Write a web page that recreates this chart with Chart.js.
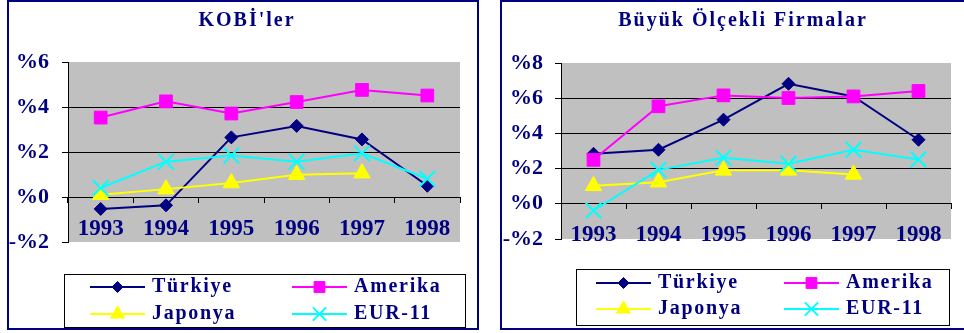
<!DOCTYPE html>
<html>
<head>
<meta charset="utf-8">
<script src="https://cdn.jsdelivr.net/npm/chart.js@4.4.1/dist/chart.umd.min.js"></script>
<style>
  html, body { margin: 0; padding: 0; background: #fff; }
  body { width: 964px; height: 333px; position: relative; overflow: hidden; }
  .panel { position: absolute; border: 2px solid #000080; box-sizing: border-box; z-index: 2; pointer-events: none; }
  canvas { position: absolute; top: 0; }
</style>
</head>
<body>
<div class="panel" style="left:7px;top:0;width:472px;height:330px"></div>
<div class="panel" style="left:500px;top:0;width:480px;height:330px"></div>
<canvas id="kobi" width="480" height="333" style="left:0;width:480px;height:333px"></canvas>
<canvas id="buyuk" width="482" height="333" style="left:482px;width:482px;height:333px"></canvas>
<script>
// Years on the category axis
const years = ['1993', '1994', '1995', '1996', '1997', '1998'];

// Series names
const seriesNames = ['Türkiye', 'Amerika', 'Japonya', 'EUR-11'];

// KOBİ'ler (%)
const kobiTurkiye = [-0.53, -0.37, 2.65, 3.16, 2.56, 0.50];
const kobiAmerika = [3.53, 4.25, 3.71, 4.22, 4.76, 4.51];
const kobiJaponya = [0.10, 0.35, 0.62, 0.99, 1.06, null];
const kobiEur11   = [0.40, 1.57, 1.84, 1.57, 1.94, 0.81];

// Büyük Ölçekli Firmalar (%)
const buyukTurkiye = [2.84, 3.07, 4.78, 6.82, 6.10, 3.64];
const buyukAmerika = [2.50, 5.54, 6.16, 6.01, 6.10, 6.41];
const buyukJaponya = [1.02, 1.23, 1.90, 1.90, 1.67, null];
const buyukEur11   = [-0.38, 1.93, 2.62, 2.27, 3.07, 2.52];

// Y-axis tick labels
const kobiTicks  = [-2, 0, 2, 4, 6];
const buyukTicks = [-2, 0, 2, 4, 6, 8];

const NAVY = '#000080';
const SERIF = "'Liberation Serif', 'Times New Roman', serif";

const seriesStyle = [
  { color: '#000080', pointStyle: 'rectRot', radius: 6.5, order: 3 },
  { color: '#FF00FF', pointStyle: 'rect', radius: 9, order: 2 },
  { color: '#FFFF00', pointStyle: 'triangle', radius: 9.5, order: 1 },
  { color: '#00FFFF', pointStyle: 'crossRot', radius: 11, order: 0 }
];

function makeDatasets(seriesData) {
  return seriesData.map((data, i) => {
    const s = seriesStyle[i];
    return {
      label: seriesNames[i],
      data: data,
      borderColor: s.color,
      backgroundColor: s.color,
      borderWidth: 2,
      pointStyle: s.pointStyle,
      pointRadius: s.radius,
      pointHoverRadius: s.radius,
      pointBorderWidth: s.pointStyle === 'crossRot' ? 2 : 1,
      pointBorderColor: s.color,
      pointBackgroundColor: s.color,
      tension: 0,
      spanGaps: false,
      order: s.order
    };
  });
}

function pctLabel(v) {
  return v < 0 ? '-%' + Math.abs(v) : '%' + v;
}

// Gray plot background, panel title and the boxed two-column legend
const panelDecor = {
  id: 'panelDecor',
  beforeDraw(chart, args, opts) {
    const { ctx, chartArea: a } = chart;
    ctx.save();
    ctx.fillStyle = '#C0C0C0';
    ctx.fillRect(a.left, a.top, a.right - a.left, a.bottom - a.top);
    ctx.restore();
  },
  afterDraw(chart, args, opts) {
    const ctx = chart.ctx;
    ctx.save();
    // title
    ctx.font = 'bold 20px ' + SERIF;
    ctx.letterSpacing = opts.titleSpacing + 'px';
    ctx.fillStyle = NAVY;
    ctx.textAlign = 'center';
    ctx.textBaseline = 'alphabetic';
    ctx.fillText(opts.title, opts.titleX, opts.titleY);

    // legend box
    const L = opts.legend;
    ctx.fillStyle = '#fff';
    ctx.fillRect(L.x, L.y, L.w, L.h);
    ctx.strokeStyle = '#000';
    ctx.lineWidth = 1;
    ctx.strokeRect(L.x + 0.5, L.y + 0.5, L.w - 1, L.h - 1);

    ctx.font = 'bold 20px ' + SERIF;
    ctx.letterSpacing = '1.7px';
    ctx.textAlign = 'left';
    ctx.textBaseline = 'middle';
    chart.data.datasets.forEach((ds, i) => {
      const x0 = L.colX[i % 2];
      const y = L.rowY[Math.floor(i / 2)];
      ctx.strokeStyle = ds.borderColor;
      ctx.lineWidth = ds.borderWidth;
      ctx.beginPath();
      ctx.moveTo(x0, y);
      ctx.lineTo(x0 + L.lineLen, y);
      ctx.stroke();
      ctx.fillStyle = ds.pointBackgroundColor;
      ctx.strokeStyle = ds.pointBorderColor;
      ctx.lineWidth = ds.pointBorderWidth;
      Chart.helpers.drawPoint(ctx, {
        pointStyle: ds.pointStyle,
        radius: ds.pointRadius * 0.85,
        borderWidth: ds.pointBorderWidth,
        rotation: 0
      }, x0 + L.lineLen / 2, y);
      ctx.fillStyle = NAVY;
      ctx.fillText(ds.label, x0 + L.lineLen + L.gap, y);
    });
    ctx.restore();
  }
};

function makeChart(canvasId, seriesData, ticks, cfg) {
  const yMin = ticks[0], yMax = ticks[ticks.length - 1];
  return new Chart(document.getElementById(canvasId), {
    type: 'line',
    data: { labels: years, datasets: makeDatasets(seriesData) },
    plugins: [panelDecor],
    options: {
      responsive: false,
      animation: false,
      events: [],
      layout: { padding: cfg.padding },
      plugins: {
        legend: { display: false },
        title: { display: false },
        tooltip: { enabled: false },
        panelDecor: cfg.decor
      },
      scales: {
        x: {
          type: 'category',
          position: { y: 0 },
          offset: true,
          grid: {
            offset: true,
            drawOnChartArea: false,
            drawTicks: true,
            tickLength: 5,
            tickColor: '#000',
            color: '#000'
          },
          border: { display: true, color: '#000', width: 1 },
          ticks: {
            color: NAVY,
            font: { family: SERIF, size: 23, weight: 'bold' },
            padding: cfg.xPad,
            maxRotation: 0,
            autoSkip: false
          }
        },
        y: {
          min: yMin,
          max: yMax,
          afterFit(scale) { scale.width = cfg.yWidth; },
          afterBuildTicks(scale) { scale.ticks = ticks.map(v => ({ value: v })); },
          grid: {
            color: (c) => (c.tick && (c.tick.value === yMin || c.tick.value === yMax)) ? 'rgba(0,0,0,0)' : '#000',
            tickColor: '#000',
            tickLength: 6,
            lineWidth: 1
          },
          border: { display: true, color: '#000', width: 1 },
          ticks: {
            color: NAVY,
            font: { family: SERIF, size: 22, weight: 'bold' },
            padding: cfg.yPad,
            callback: (v) => pctLabel(v)
          }
        }
      }
    }
  });
}

makeChart('kobi', [kobiTurkiye, kobiAmerika, kobiJaponya, kobiEur11], kobiTicks, {
  padding: { left: 0, top: 62, right: 20, bottom: 91 },
  yWidth: 68,
  yPad: 13,
  xPad: 13,
  decor: {
    title: "KOBİ'ler",
    titleX: 247,
    titleY: 26,
    titleSpacing: 2,
    legend: { x: 64, y: 274, w: 402, h: 54, colX: [90, 292], rowY: [287, 314], lineLen: 55, gap: 7 }
  }
});

makeChart('buyuk', [buyukTurkiye, buyukAmerika, buyukJaponya, buyukEur11], buyukTicks, {
  padding: { left: 0, top: 63, right: 11, bottom: 94 },
  yWidth: 79,
  yPad: 12,
  xPad: 12,
  decor: {
    title: 'Büyük Ölçekli Firmalar',
    titleX: 261,
    titleY: 26,
    titleSpacing: 2,
    legend: { x: 94, y: 269, w: 374, h: 57, colX: [114, 302], rowY: [283, 309], lineLen: 55, gap: 7 }
  }
});
</script>
</body>
</html>
